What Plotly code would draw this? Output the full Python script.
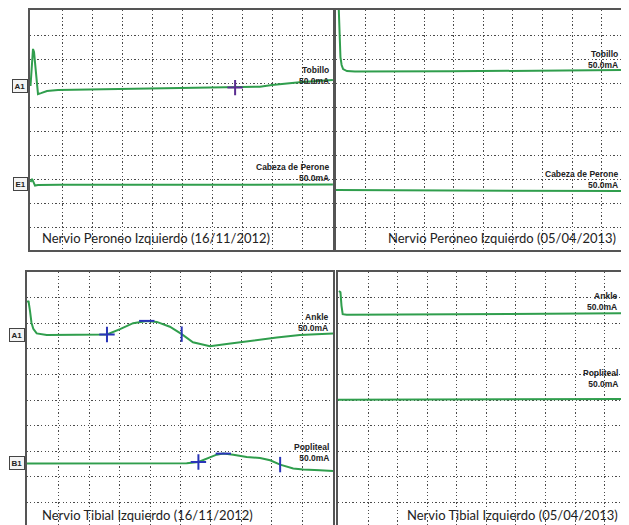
import plotly.graph_objects as go

# ---------------- data (grid divisions; x: time div, y: amplitude div) ----------------
# Nervio Peroneo Izquierdo (16/11/2012)
per1_a1_x = [-0.05, 0.0, 0.033, 0.067, 0.133, 0.2, 0.3, 0.5, 0.867, 1.93, 3.1, 4.93, 6.77, 7.6, 8.0, 8.53, 9.0, 10.03]
per1_a1_y = [1.875, 3.08, 3.42, 3.29, 2.25, 1.54, 1.58, 1.67, 1.71, 1.73, 1.75, 1.77, 1.81, 1.85, 1.92, 2.0, 2.04, 2.125]
per1_e1_x = [-0.05, 0.0, 0.05, 0.1, 0.2, 0.93, 10.03]
per1_e1_y = [-2.125, -2.0, -2.125, -2.27, -2.25, -2.24, -2.23]
per1_cross_x = [6.77]
per1_cross_y = [1.81]

# Nervio Peroneo Izquierdo (05/04/2013)
per2_a1_x = [0.105, 0.14, 0.17, 0.21, 0.26, 0.39, 0.66, 3.87, 7.25, 9.92]
per2_a1_y = [5.375, 4.125, 3.08, 2.75, 2.58, 2.5, 2.48, 2.49, 2.51, 2.54]
per2_e1_x = [0.02, 4.89, 9.92]
per2_e1_y = [-2.46, -2.48, -2.5]

# Nervio Tibial Izquierdo (16/11/2012)
tib1_a1_x = [-0.046, -0.003, 0.046, 0.095, 0.155, 0.267, 0.596, 1.69, 2.58, 3.01, 3.44, 3.89, 4.22, 4.65,
             5.04, 5.41, 5.97, 6.52, 7.29, 8.17, 8.93, 10.02]
tib1_a1_y = [3.83, 3.88, 3.49, 3.03, 2.79, 2.61, 2.545, 2.54, 2.565, 2.78, 3.01, 3.10, 3.06, 2.87,
             2.58, 2.26, 2.11, 2.19, 2.32, 2.45, 2.55, 2.61]
tib1_b1_x = [-0.069, 2.35, 5.205, 5.59, 5.86, 6.19, 6.41, 6.74, 7.18, 7.62, 7.95, 8.28, 8.71, 9.04, 9.59, 10.02]
tib1_b1_y = [-2.49, -2.49, -2.48, -2.43, -2.29, -2.14, -2.10, -2.14, -2.23, -2.27, -2.36, -2.53, -2.68, -2.72, -2.75, -2.78]
tib1_cross_x = [2.58, 5.59]
tib1_cross_y = [2.565, -2.43]
tib1_peak_x = [3.89, 6.41]
tib1_peak_y = [3.10, -2.10]
tib1_end_x = [5.04, 8.28]
tib1_end_y = [2.58, -2.53]

# Nervio Tibial Izquierdo (05/04/2013)
tib2_a1_x = [0.02, 0.07, 0.105, 0.145, 0.28, 3.77, 9.82]
tib2_a1_y = [4.27, 4.22, 3.69, 3.365, 3.34, 3.36, 3.40]
tib2_b1_x = [-0.0135, 4.9, 9.82]
tib2_b1_y = [0.01, 0.02, 0.04]

grid_vals_x = [1, 2, 3, 4, 5, 6, 7, 8, 9]
grid_vals_y = [-4, -3, -2, -1, 0, 1, 2, 3, 4]

titles = ["Nervio Peroneo Izquierdo (16/11/2012)", "Nervio Peroneo Izquierdo (05/04/2013)",
          "Nervio Tibial Izquierdo (16/11/2012)", "Nervio Tibial Izquierdo (05/04/2013)"]

site_names = ["Tobillo", "Cabeza de Perone", "Tobillo", "Cabeza de Perone",
              "Ankle", "Popliteal", "Ankle", "Popliteal"]
stim_labels = ["50.0mA"] * 8

# ---------------- layout helpers ----------------
# the page body has an 8px margin, so the figure starts at page pixel (8, 8)
OFF = 8
W, H = 629 - OFF, 525 - OFF
VIS_RIGHT = 620  # right-most page pixel that is actually visible
def px(x):
    return (x - OFF) / W
def py(y):
    return 1 - (y - OFF) / H

TRACE = "#309e4d"
CUR_PURPLE = "#5a2d91"
CUR_BLUE = "#2a35b8"
GRID = "#4a4a4a"
BORDER = "#555555"

fig = go.Figure()

def line(x, y, ax):
    fig.add_trace(go.Scatter(x=x, y=y, mode="lines", xaxis="x" + ax, yaxis="y" + ax,
                             line=dict(color=TRACE, width=2), hoverinfo="skip", showlegend=False))

def marks(x, y, ax, symbol, color, size):
    fig.add_trace(go.Scatter(x=x, y=y, mode="markers", xaxis="x" + ax, yaxis="y" + ax, cliponaxis=False,
                             marker=dict(symbol=symbol, size=size, color=color,
                                         line=dict(color=color, width=2)),
                             hoverinfo="skip", showlegend=False))

line(per1_a1_x, per1_a1_y, "")
line(per1_e1_x, per1_e1_y, "")
marks(per1_cross_x, per1_cross_y, "", "cross-thin", CUR_PURPLE, 11)

line(per2_a1_x, per2_a1_y, "2")
line(per2_e1_x, per2_e1_y, "2")

line(tib1_a1_x, tib1_a1_y, "3")
line(tib1_b1_x, tib1_b1_y, "3")
marks(tib1_cross_x, tib1_cross_y, "3", "cross-thin", CUR_BLUE, 11)
marks(tib1_peak_x, tib1_peak_y, "3", "line-ew", CUR_BLUE, 11)
marks(tib1_end_x, tib1_end_y, "3", "line-ns", CUR_BLUE, 11)

line(tib2_a1_x, tib2_a1_y, "4")
line(tib2_b1_x, tib2_b1_y, "4")

def xax(domain, rng, mirror, side="bottom"):
    return dict(domain=domain, range=rng, tickvals=grid_vals_x, showticklabels=False, ticks="",
                showgrid=True, gridcolor=GRID, gridwidth=1.2, griddash="1.3px,2.3px", zeroline=False,
                showline=True, linecolor=BORDER, linewidth=1.5, mirror=mirror, side=side, fixedrange=True)

def yax(domain, rng, mirror, anchor):
    return dict(domain=domain, range=rng, tickvals=grid_vals_y, showticklabels=False, ticks="",
                showgrid=True, gridcolor=GRID, gridwidth=1.2, griddash="1.3px,2.3px", zeroline=False,
                showline=True, linecolor=BORDER, linewidth=1.5, mirror=mirror, anchor=anchor, fixedrange=True)

BOT = OFF + H  # last figure pixel row on the page
top_dom = [py(249), py(8)]
bot_dom = [0, py(271)]
top_rng = [-4.958, 5.042]
bot_rng = [5.0 - (BOT - 271.4) / 25.625, 5.016]

fig.update_layout(
    width=W, height=H, margin=dict(l=0, r=0, t=0, b=0),
    paper_bgcolor="white", plot_bgcolor="white", showlegend=False,
    xaxis=xax([px(30), px(333)], [-0.067, 10.033], True),
    yaxis=yax(top_dom, top_rng, True, "x"),
    xaxis2=xax([px(336), 1.0], [0.02, 9.92], True),
    yaxis2=yax(top_dom, top_rng, False, "x2"),
    xaxis3=xax([px(26.5), px(333)], [-0.069, 10.02], False, "top"),
    yaxis3=yax(bot_dom, bot_rng, True, "x3"),
    xaxis4=xax([px(338), 1.0], [-0.0135, 9.818], False, "top"),
    yaxis4=yax(bot_dom, bot_rng, False, "x4"),
)
fig.update_layout(xaxis=dict(anchor="y"), xaxis2=dict(anchor="y2"),
                  xaxis3=dict(anchor="y3"), xaxis4=dict(anchor="y4"))

# white boxes behind the titles (they hide the grid)
shapes = [
    dict(x0=px(31), x1=px(300), y0=py(248), y1=py(220)),
    dict(x0=px(367), x1=1.0, y0=py(248), y1=py(220)),
    dict(x0=px(27.5), x1=px(300), y0=0, y1=py(496)),
    dict(x0=px(370), x1=1.0, y0=0, y1=py(496)),
]
for s in shapes:
    fig.add_shape(type="rect", xref="paper", yref="paper", fillcolor="white", line=dict(width=0),
                  layer="between", **s)

TITLE_FONT = dict(family="Lato, 'Open Sans', sans-serif", size=13, color="#222222")
title_pos = [(40, 237), (386, 237), (40, 515), (405, 515)]
for t, (x, y) in zip(titles, title_pos):
    fig.add_annotation(text=t, xref="paper", yref="paper", x=px(x), y=py(y), xanchor="left",
                       yanchor="middle", showarrow=False, font=TITLE_FONT)

# site labels (two lines, right aligned at the panel's right edge)
LBL_FONT = dict(family="Arial, 'Liberation Sans', sans-serif", size=8.5, color="#222222")
site_pos = [(331, 74), (331, 171), (VIS_RIGHT, 58), (VIS_RIGHT, 178),
            (331, 322), (331, 452), (VIS_RIGHT, 301), (VIS_RIGHT, 378)]
for name, stim, (x, y) in zip(site_names, stim_labels, site_pos):
    fig.add_annotation(text="<b>" + name + "</b><br><b>" + stim + "</b>", xref="paper", yref="paper",
                       x=px(x), y=py(y), xanchor="right", yanchor="middle", align="right",
                       showarrow=False, font=LBL_FONT)

# channel labels
CH_FONT = dict(family="Arial, 'Liberation Sans', sans-serif", size=8, color="#222222")
channels = [("A1", "y", 1.875, 28), ("E1", "y", -2.21, 28), ("A1", "y3", 2.55, 25), ("B1", "y3", -2.48, 25)]
for t, yr, yv, x in channels:
    fig.add_annotation(text="<b>" + t + "</b>", xref="paper", yref=yr, x=px(x), y=yv, xanchor="right",
                       yanchor="middle", showarrow=False, font=CH_FONT, bordercolor="#444444",
                       borderwidth=1, borderpad=1.5, bgcolor="#f4f4f4")

fig.write_html("out.html")
